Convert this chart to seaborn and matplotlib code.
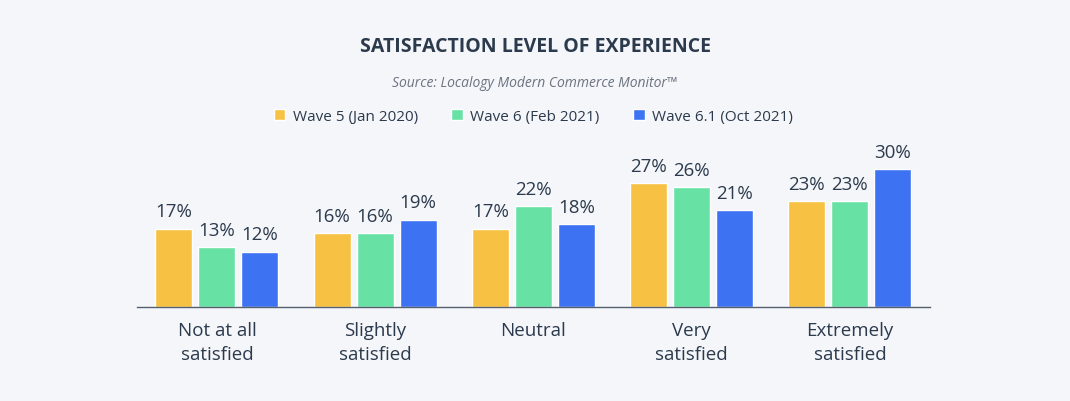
import matplotlib
matplotlib.use("Agg")
import matplotlib.pyplot as plt
import pandas as pd
import seaborn as sns

# -------------------------------------------------------
# Data
# -------------------------------------------------------
categories = ["Not at all\nsatisfied", "Slightly\nsatisfied", "Neutral",
              "Very\nsatisfied", "Extremely\nsatisfied"]
waves = ["Wave 5 (Jan 2020)", "Wave 6 (Feb 2021)", "Wave 6.1 (Oct 2021)"]
wave5 = [17, 16, 17, 27, 23]
wave6 = [13, 16, 22, 26, 23]
wave61 = [12, 19, 18, 21, 30]
colors = ["#F7C244", "#67E2A4", "#3D73F2"]

BG = "#F5F6FA"
TXT = "#2B3A4C"

df = pd.DataFrame({
    "category": categories * 3,
    "wave": [waves[0]] * 5 + [waves[1]] * 5 + [waves[2]] * 5,
    "value": wave5 + wave6 + wave61,
})

sns.set_theme(style="white")
plt.rcParams["font.family"] = ["Open Sans", "DejaVu Sans"]

fig = plt.figure(figsize=(10.7, 4.02), dpi=100, facecolor=BG)
ax = fig.add_axes([0.128, 0.234, 0.741, 0.40], facecolor=BG)

sns.barplot(data=df, x="category", y="value", hue="wave", order=categories,
            hue_order=waves, palette=colors, width=0.815, gap=0.14,
            saturation=1, ax=ax, legend=True)

for cont in ax.containers:
    ax.bar_label(cont, labels=[f"{int(v)}%" for v in cont.datavalues],
                 padding=6, fontsize=13.5, color=TXT)

ax.set_xlim(-0.505, 4.505)
ax.set_ylim(0, 35)
ax.set_xlabel("")
ax.set_ylabel("")
ax.set_yticks([])
ax.tick_params(axis="x", length=0, pad=10, labelsize=13.5, labelcolor=TXT)
for lbl in ax.get_xticklabels():
    lbl.set_linespacing(1.45)
for s in ["top", "right", "left"]:
    ax.spines[s].set_visible(False)
ax.spines["bottom"].set_color("#55606E")
ax.spines["bottom"].set_linewidth(1)

ax.legend(loc="center", bbox_to_anchor=(0.5, 1.186), ncol=3, frameon=False,
          fontsize=11, handlelength=0.75, handleheight=0.75, handletextpad=0.5,
          columnspacing=2.2, labelcolor=TXT)

fig.text(0.5, 0.883, "SATISFACTION LEVEL OF EXPERIENCE", ha="center",
         va="center", fontsize=14, fontweight="bold", color=TXT)
fig.text(0.5, 0.793, "Source: Localogy Modern Commerce Monitor\u2122",
         ha="center", va="center", fontsize=10, style="italic", color="#6B7380")

fig.savefig("out.png", dpi=100, facecolor=BG)
